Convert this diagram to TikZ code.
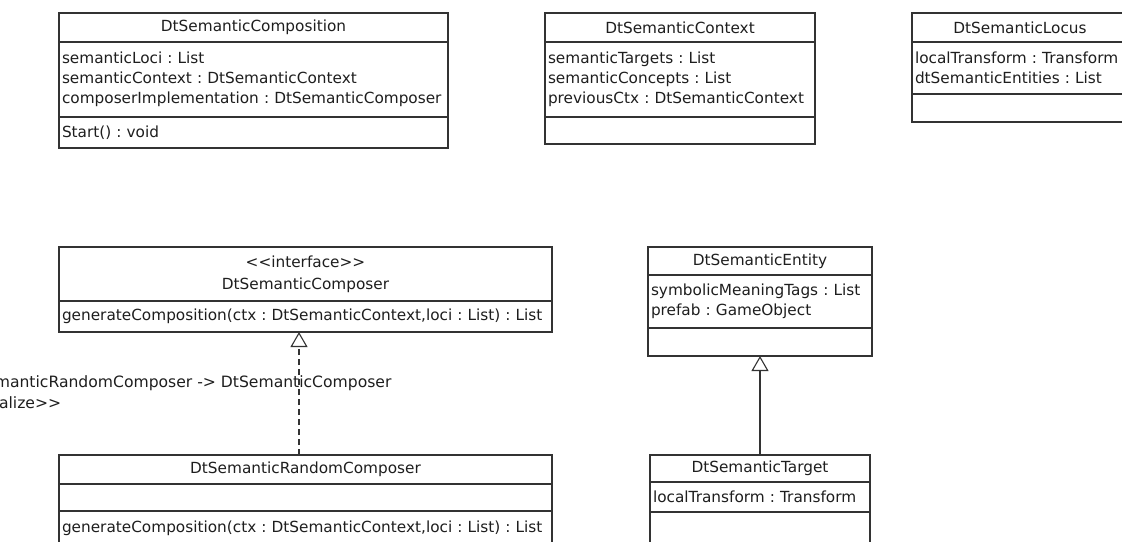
\documentclass[tikz,border=0pt]{standalone}
\usepackage{fontspec}
\setmainfont{DejaVu Sans}
\usepackage{tikz}
\usetikzlibrary{arrows.meta,positioning,shadows}
\definecolor{umlline}{HTML}{333333}
\definecolor{umltext}{HTML}{1E1E1E}
\newcommand{\umlfont}{\fontsize{15.3}{20}\selectfont}
\frenchspacing

\begin{document}
\begin{tikzpicture}[
    x=1pt,y=-1pt,
    cls/.style  = {draw=umlline, fill=white, line width=1.1pt, outer sep=0pt,
                   inner xsep=3pt, inner ysep=0pt, font=\umlfont, text=umltext,
                   drop shadow={shadow xshift=1.3pt, shadow yshift=-1.3pt,
                                opacity=0.22}},
    hd/.style   = {cls, align=center, anchor=north},
    cmp/.style  = {cls, align=left},
    gen/.style  = {-{Triangle[open,length=15pt,width=17pt]}, umlline,
                   line width=1.1pt},
    real/.style = {gen, dash pattern=on 6pt off 4pt},
    lbl/.style  = {font=\fontsize{15.6}{21}\selectfont, text=umltext,
                   align=left, inner sep=0pt},
  ]

  \useasboundingbox (0,0) rectangle (1122,541);
  \clip (0,0) rectangle (1122,541);

  % top row
  \node[hd, minimum width=389pt, minimum height=29pt] (comp) at (253.5,13)
       {DtSemanticComposition};
  \node[cmp, below=0pt of comp, text width=383pt, minimum height=75pt] (compAttr)
       {semanticLoci : List\\semanticContext : DtSemanticContext\\
        composerImplementation : DtSemanticComposer};
  \node[cmp, below=0pt of compAttr, text width=383pt, minimum height=31pt] (compOps)
       {Start() : void};

  \node[hd, minimum width=270pt, minimum height=29pt] (ctx) at (680,13)
       {DtSemanticContext};
  \node[cmp, below=0pt of ctx, text width=264pt, minimum height=75pt] (ctxAttr)
       {semanticTargets : List\\semanticConcepts : List\\
        previousCtx : DtSemanticContext};
  \node[cmp, below=0pt of ctxAttr, text width=264pt, minimum height=27pt] (ctxOps) {};

  \node[hd, minimum width=216pt, minimum height=29pt] (locus) at (1020,13)
       {DtSemanticLocus};
  \node[cmp, below=0pt of locus, text width=210pt, minimum height=52pt] (locusAttr)
       {localTransform : Transform\\dtSemanticEntities : List};
  \node[cmp, below=0pt of locusAttr, text width=210pt, minimum height=28pt] (locusOps) {};

  % composer interface and its realization
  \node[hd, minimum width=493pt, minimum height=54pt,
        font=\fontsize{15.3}{22}\selectfont] (composer) at (305.5,247)
       {{<}{<}interface{>}{>}\\DtSemanticComposer};
  \node[cmp, below=0pt of composer, text width=487pt, minimum height=31pt] (composerOps)
       {generateComposition(ctx : DtSemanticContext,loci : List) : List};

  \node[hd, minimum width=493pt, minimum height=29pt] (rand) at (305.5,455)
       {DtSemanticRandomComposer};
  \node[cmp, below=0pt of rand, text width=487pt, minimum height=27pt] (randAttr) {};
  \node[cmp, below=0pt of randAttr, text width=487pt, minimum height=34pt] (randOps)
       {generateComposition(ctx : DtSemanticContext,loci : List) : List};

  % entity and target
  \node[hd, minimum width=224pt, minimum height=28pt] (entity) at (760,247)
       {DtSemanticEntity};
  \node[cmp, below=0pt of entity, text width=218pt, minimum height=53pt] (entityAttr)
       {symbolicMeaningTags : List\\prefab : GameObject};
  \node[cmp, below=0pt of entityAttr, text width=218pt, minimum height=28pt] (entityOps) {};

  \node[hd, minimum width=220pt, minimum height=27pt] (target) at (760,455)
       {DtSemanticTarget};
  \node[cmp, below=0pt of target, text width=214pt, minimum height=30pt] (targetAttr)
       {localTransform : Transform};
  \node[cmp, below=0pt of targetAttr, text width=214pt, minimum height=34pt] (targetOps) {};

  \node[lbl, anchor=west] (realLbl) at (-43,392.5)
       {DtSemanticRandomComposer -> DtSemanticComposer\\{<}{<}realize{>}{>}};

  \draw[real] ([xshift=-6.5pt]rand.north) -- ([xshift=-6.5pt]composerOps.south);
  \draw[gen] (target.north) -- (entityOps.south);

\end{tikzpicture}
\end{document}
